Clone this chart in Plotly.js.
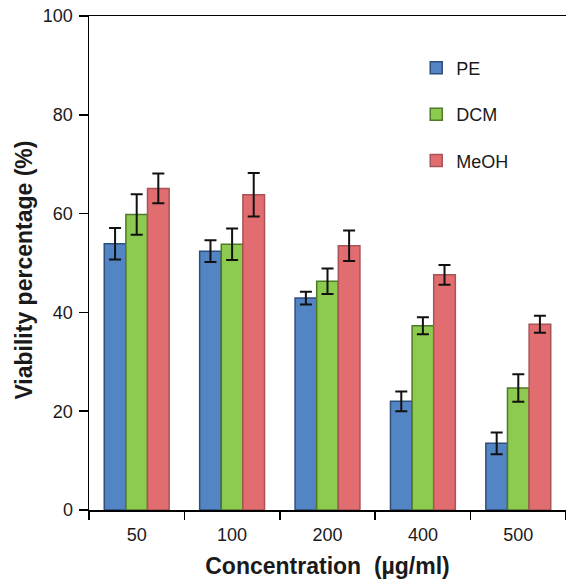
<!DOCTYPE html>
<html>
<head>
<meta charset="utf-8">
<script src="https://cdn.plot.ly/plotly-3.0.1.min.js"></script>
<style>html,body{margin:0;padding:0;background:#fff;}#chart{width:566px;height:584px;}</style>
</head>
<body>
<div id="chart"></div>
<script>
const categories = ["50", "100", "200", "400", "500"];
const seriesNames = ["PE", "DCM", "MeOH"];
const peValues   = [53.9, 52.4, 42.9, 22.0, 13.5];
const peErrors   = [3.2, 2.2, 1.3, 2.0, 2.2];
const dcmValues  = [59.8, 53.8, 46.3, 37.3, 24.7];
const dcmErrors  = [4.1, 3.2, 2.6, 1.7, 2.8];
const meohValues = [65.1, 63.8, 53.5, 47.6, 37.6];
const meohErrors = [3.0, 4.4, 3.1, 2.0, 1.7];
const xTitle = "Concentration\u00a0\u00a0(\u00b5g/ml)";
const yTitle = "Viability percentage (%)";

const fills = ["#5385c4", "#8ccb4f", "#e16d70"];
const edges = ["#2e4f7c", "#4f7a25", "#a85456"];
const vals = [peValues, dcmValues, meohValues];
const errs = [peErrors, dcmErrors, meohErrors];

const traces = seriesNames.map((name, i) => ({
  type: "bar",
  name: name,
  legendgroup: name,
  x: categories,
  y: vals[i],
  marker: {color: fills[i], line: {color: edges[i], width: 1.5}},
  error_y: {type: "data", array: errs[i], visible: true, color: "#111", thickness: 2, width: 6}
}));

const font = "Liberation Sans, Arial, Helvetica, sans-serif";
const layout = {
  width: 566, height: 584,
  margin: {l: 89, r: 0, t: 16, b: 74},
  paper_bgcolor: "#fff", plot_bgcolor: "#fff",
  barmode: "group", bargap: 0.32, bargroupgap: 0,
  font: {family: font, color: "#1a1a1a"},
  showlegend: true,
  legend: {x: 0.686, y: 0.932, xanchor: "left", yanchor: "top",
           font: {family: font, size: 18, color: "#1a1a1a"},
           tracegroupgap: 20, bgcolor: "rgba(0,0,0,0)", itemwidth: 30},
  xaxis: {
    type: "category", range: [-0.5, 4.5],
    showline: true, linecolor: "#000", linewidth: 1.5, mirror: true,
    ticks: "outside", tickson: "boundaries", ticklen: 8, tickwidth: 1.5, tickcolor: "#000",
    ticklabelstandoff: 8,
    tickfont: {size: 18, family: font, color: "#1a1a1a"},
    showgrid: false, zeroline: false,
    title: {text: xTitle, font: {size: 23, family: font, color: "#1a1a1a", weight: "bold"}, standoff: 14}
  },
  yaxis: {
    range: [0, 100], tickvals: [0, 20, 40, 60, 80, 100],
    showline: true, linecolor: "#000", linewidth: 1.5,
    ticks: "outside", ticklen: 9, tickwidth: 1.5, tickcolor: "#000",
    ticklabelstandoff: 2,
    tickfont: {size: 18, family: font, color: "#1a1a1a"},
    showgrid: false, zeroline: false
  },
  annotations: [{
    text: yTitle, textangle: -90, showarrow: false,
    xref: "paper", yref: "paper", x: -0.137, y: 0.486,
    xanchor: "center", yanchor: "middle",
    font: {size: 23, family: font, color: "#1a1a1a", weight: "bold"}
  }]
};

Plotly.newPlot("chart", traces, layout, {displayModeBar: false, staticPlot: true});
</script>
</body>
</html>
